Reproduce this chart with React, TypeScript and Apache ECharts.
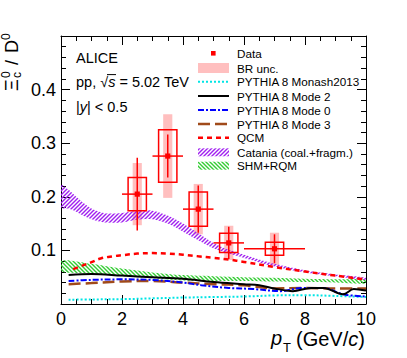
import React, { useEffect, useRef } from "react";
import * as echarts from "echarts";

const FONT = "'Liberation Sans', Arial, Helvetica, sans-serif";

// ---- data points ----
const ptX = [2.5, 3.5, 4.5, 5.5, 7.0];
const ptLow = [2, 3, 4, 5, 6];
const ptHigh = [3, 4, 5, 6, 8];
const ratio = [0.205, 0.276, 0.177, 0.114, 0.103];
const statErr = [0.068, 0.040, 0.044, 0.030, 0.027];
const systErr = [0.031, 0.049, 0.032, 0.018, 0.012];
const brErr = [0.058, 0.078, 0.047, 0.032, 0.030];

// ---- models ----
const cataniaPt = [0, 0.25, 0.5, 0.75, 1.0, 1.25, 1.5, 2.0, 2.5, 3.0, 3.5, 4.0, 4.5, 5.0, 5.5, 6, 7, 8, 9, 10];
const cataniaHi = [0.222, 0.213, 0.2, 0.188, 0.178, 0.172, 0.169, 0.17, 0.174, 0.174, 0.165, 0.15, 0.132, 0.114, 0.101, 0.092, 0.075, 0.063, 0.055, 0.049];
const cataniaLo = [0.18, 0.178, 0.172, 0.164, 0.158, 0.154, 0.152, 0.152, 0.157, 0.158, 0.15, 0.135, 0.119, 0.104, 0.094, 0.086, 0.07, 0.059, 0.052, 0.045];

const shmPt = [0, 1, 2, 3, 4, 5, 6, 7, 8, 9, 10];
const shmHi = [0.081, 0.075, 0.066, 0.059, 0.054, 0.052, 0.05, 0.049, 0.047, 0.046, 0.0456];
const shmLo = [0.061, 0.057, 0.052, 0.048, 0.044, 0.043, 0.043, 0.042, 0.041, 0.04, 0.038];

const qcmPt = [0.4, 0.7, 1.0, 1.3, 1.7, 2.0, 2.5, 3.0, 3.5, 4.0, 4.5, 5.0, 5.5, 6, 7, 8, 9, 10];
const qcmVal = [0.065, 0.0715, 0.078, 0.085, 0.089, 0.091, 0.094, 0.095, 0.094, 0.092, 0.089, 0.086, 0.083, 0.0785, 0.069, 0.0605, 0.053, 0.0456];

const mode2Pt = [0.25, 1, 2, 3, 4, 5, 6, 6.5, 7, 7.6, 8.2, 8.6, 9.25, 9.6, 10];
const mode2Val = [0.054, 0.056, 0.053, 0.05, 0.047, 0.041, 0.037, 0.035, 0.029, 0.024, 0.03, 0.03, 0.018, 0.028, 0.025];

const mode0Pt = [0.25, 1, 2, 3, 4, 4.6, 5.5, 6.3, 7.2, 7.9, 8.6, 9.25, 10];
const mode0Val = [0.043, 0.045, 0.046, 0.045, 0.04, 0.035, 0.03, 0.028, 0.024, 0.03, 0.03, 0.018, 0.014];

const mode3Pt = [0.25, 1, 2, 3, 4, 5, 6, 7, 8, 9, 10];
const mode3Val = [0.037, 0.039, 0.042, 0.043, 0.04, 0.037, 0.035, 0.029, 0.03, 0.029, 0.029];

const monashPt = [0.25, 1, 2, 3, 4, 5, 6, 7, 8, 9, 10];
const monashVal = [0.008, 0.0085, 0.009, 0.0105, 0.012, 0.013, 0.014, 0.016, 0.0165, 0.015, 0.013];

const legendLabels = [
  "Data",
  "BR unc.",
  "PYTHIA 8 Monash2013",
  "PYTHIA 8 Mode 2",
  "PYTHIA 8 Mode 0",
  "PYTHIA 8 Mode 3",
  "QCM",
  "Catania (coal.+fragm.)",
  "SHM+RQM",
];

const RED = "#ff0000";
const PINK = "#ffbfbf";
const PURPLE = "#a020f0";
const GREEN = "#33cc33";
const CYAN = "#00e5e5";
const BLUE = "#0000ff";
const BROWN = "#a04a1a";

function hatch(color: string, forward: boolean) {
  const c = document.createElement("canvas");
  c.width = 4;
  c.height = 4;
  const ctx = c.getContext("2d")!;
  ctx.strokeStyle = color;
  ctx.lineWidth = 1.4;
  const segs = forward
    ? [[0, 4, 4, 0], [-1, 1, 1, -1], [3, 5, 5, 3]]
    : [[0, 0, 4, 4], [-1, 3, 1, 5], [3, -1, 5, 1]];
  ctx.beginPath();
  for (const s of segs) {
    ctx.moveTo(s[0], s[1]);
    ctx.lineTo(s[2], s[3]);
  }
  ctx.stroke();
  return { image: c, repeat: "repeat" } as any;
}

function bandSeries(name: string, xs: number[], lo: number[], hi: number[], fill: any) {
  return {
    type: "custom",
    name,
    clip: true,
    data: xs.map((x, i) => [x, lo[i], hi[i]]),
    encode: { x: 0, y: [1, 2] },
    renderItem: (params: any, api: any) => {
      if (params.dataIndex !== 0) return null;
      const pts: number[][] = [];
      for (let i = 0; i < xs.length; i++) pts.push(api.coord([xs[i], hi[i]]));
      for (let i = xs.length - 1; i >= 0; i--) pts.push(api.coord([xs[i], lo[i]]));
      return { type: "polygon", shape: { points: pts, smooth: 0.3 }, style: { fill, stroke: null } };
    },
  };
}

function lineSeries(name: string, xs: number[], ys: number[], color: string, width: number, dash: any) {
  return {
    type: "line",
    name,
    data: xs.map((x, i) => [x, ys[i]]),
    showSymbol: false,
    symbol: "none",
    smooth: 0.35,
    clip: true,
    lineStyle: { color, width, type: dash },
  };
}

function makeAxis(dim: "x" | "y", position: string, main: boolean) {
  const isX = dim === "x";
  return {
    type: "value",
    position,
    min: 0,
    max: isX ? 10 : 0.5,
    interval: isX ? 2 : 0.1,
    axisLine: { show: true, onZero: false, lineStyle: { color: "#000", width: 1 } },
    axisTick: { show: true, inside: true, length: 9, lineStyle: { color: "#000", width: 1 } },
    minorTick: { show: true, splitNumber: isX ? 4 : 5, length: 5, lineStyle: { color: "#000", width: 1 } },
    splitLine: { show: false },
    minorSplitLine: { show: false },
    axisLabel: main
      ? {
          show: true,
          fontSize: 18,
          color: "#000",
          fontFamily: FONT,
          margin: isX ? 6 : 5,
          showMinLabel: isX,
          showMaxLabel: isX,
          formatter: (v: number) => (isX ? String(Math.round(v)) : v.toFixed(1)),
        }
      : { show: false },
  };
}

export default function App() {
  const ref = useRef<HTMLDivElement>(null);

  useEffect(() => {
    if (!ref.current) return;
    const chart = echarts.init(ref.current, undefined, { renderer: "svg" });
    const purpleHatch = hatch(PURPLE, true);
    const greenHatch = hatch(GREEN, false);

    const dataRows = ptX.map((x, i) => [x, ratio[i], ptLow[i], ptHigh[i], statErr[i], systErr[i], brErr[i]]);

    const legX0 = 198;
    const legX1 = 229;
    const rowY = [53.3, 68, 81.7, 96, 110, 124, 137.7, 152.3, 165.7];

    const legendGraphics: any[] = [];
    legendLabels.forEach((t, i) => {
      legendGraphics.push({
        type: "text",
        x: 237,
        y: rowY[i],
        style: { text: t, fontSize: 11.7, fontFamily: FONT, fill: "#000", verticalAlign: "middle", textAlign: "left" },
      });
    });
    legendGraphics.push(
      { type: "rect", shape: { x: 211, y: rowY[0] - 2.3, width: 4.6, height: 4.6 }, style: { fill: RED } },
      { type: "rect", shape: { x: legX0, y: rowY[1] - 5, width: legX1 - legX0, height: 10 }, style: { fill: PINK } },
      { type: "line", shape: { x1: legX0, y1: rowY[2], x2: legX1, y2: rowY[2] }, style: { stroke: CYAN, lineWidth: 2, lineDash: [2, 2] } },
      { type: "line", shape: { x1: legX0, y1: rowY[3], x2: legX1, y2: rowY[3] }, style: { stroke: "#000", lineWidth: 2 } },
      { type: "line", shape: { x1: legX0, y1: rowY[4], x2: legX1, y2: rowY[4] }, style: { stroke: BLUE, lineWidth: 2, lineDash: [6, 2, 2, 2] } },
      { type: "line", shape: { x1: legX0, y1: rowY[5], x2: legX1, y2: rowY[5] }, style: { stroke: BROWN, lineWidth: 2.5, lineDash: [12, 5] } },
      { type: "line", shape: { x1: legX0, y1: rowY[6], x2: legX1, y2: rowY[6] }, style: { stroke: RED, lineWidth: 2.5, lineDash: [5, 4] } },
      { type: "rect", shape: { x: legX0, y: rowY[7] - 4, width: legX1 - legX0, height: 8 }, style: { fill: purpleHatch } },
      { type: "rect", shape: { x: legX0, y: rowY[8] - 4, width: legX1 - legX0, height: 8 }, style: { fill: greenHatch } }
    );

    const AFS = 14.5;
    const option: any = {
      animation: false,
      backgroundColor: "#fff",
      grid: { left: 61, right: 41, top: 36, bottom: 54, containLabel: false },
      xAxis: [makeAxis("x", "bottom", true), makeAxis("x", "top", false)],
      yAxis: [makeAxis("y", "left", true), makeAxis("y", "right", false)],
      series: [
        {
          type: "custom",
          name: "BR unc.",
          clip: true,
          data: dataRows,
          encode: { x: 0, y: 1 },
          renderItem: (params: any, api: any) => {
            const x = api.value(0);
            const y = api.value(1);
            const br = api.value(6);
            const p1 = api.coord([x - 0.15, y + br]);
            const p2 = api.coord([x + 0.15, y - br]);
            return {
              type: "rect",
              shape: { x: p1[0], y: p1[1], width: p2[0] - p1[0], height: p2[1] - p1[1] },
              style: { fill: PINK },
            };
          },
        },
        bandSeries("SHM+RQM", shmPt, shmLo, shmHi, greenHatch),
        bandSeries("Catania (coal.+fragm.)", cataniaPt, cataniaLo, cataniaHi, purpleHatch),
        lineSeries("PYTHIA 8 Monash2013", monashPt, monashVal, CYAN, 2, [2, 2]),
        lineSeries("PYTHIA 8 Mode 3", mode3Pt, mode3Val, BROWN, 2.5, [12, 5]),
        lineSeries("PYTHIA 8 Mode 0", mode0Pt, mode0Val, BLUE, 2, [6, 2, 2, 2]),
        lineSeries("PYTHIA 8 Mode 2", mode2Pt, mode2Val, "#000", 2, "solid"),
        lineSeries("QCM", qcmPt, qcmVal, RED, 2.5, [5, 4]),
        {
          type: "custom",
          name: "Data",
          clip: true,
          data: dataRows,
          encode: { x: 0, y: 1 },
          renderItem: (params: any, api: any) => {
            const x = api.value(0);
            const y = api.value(1);
            const xl = api.value(2);
            const xh = api.value(3);
            const st = api.value(4);
            const sy = api.value(5);
            const c = api.coord([x, y]);
            const b1 = api.coord([x - 0.3, y + sy]);
            const b2 = api.coord([x + 0.3, y - sy]);
            const sT = api.coord([x, y + st]);
            const sB = api.coord([x, y - st]);
            const hl = api.coord([xl, y]);
            const hh = api.coord([xh, y]);
            return {
              type: "group",
              children: [
                {
                  type: "rect",
                  shape: { x: b1[0], y: b1[1], width: b2[0] - b1[0], height: b2[1] - b1[1] },
                  style: { fill: "none", stroke: RED, lineWidth: 1.5 },
                },
                { type: "line", shape: { x1: sT[0], y1: sT[1], x2: sB[0], y2: sB[1] }, style: { stroke: RED, lineWidth: 1.5 } },
                { type: "line", shape: { x1: hl[0], y1: hl[1], x2: hh[0], y2: hh[1] }, style: { stroke: RED, lineWidth: 1.5 } },
                { type: "rect", shape: { x: c[0] - 2.6, y: c[1] - 2.6, width: 5.2, height: 5.2 }, style: { fill: RED } },
              ],
            };
          },
        },
      ],
      graphic: [
        {
          type: "group",
          x: 12,
          y: 91,
          rotation: Math.PI / 2,
          children: [
            { type: "text", x: 0, y: 0, style: { text: "Ξ", fontSize: 18, fontFamily: FONT, fill: "#000", verticalAlign: "middle" } },
            { type: "text", x: 13, y: 5, style: { text: "c", fontSize: 12, fontFamily: FONT, fill: "#000", verticalAlign: "middle" } },
            { type: "text", x: 13, y: -6, style: { text: "0", fontSize: 12, fontFamily: FONT, fill: "#000", verticalAlign: "middle" } },
            { type: "text", x: 26, y: 0, style: { text: "/", fontSize: 18, fontFamily: FONT, fill: "#000", verticalAlign: "middle" } },
            { type: "text", x: 38, y: 0, style: { text: "D", fontSize: 18, fontFamily: FONT, fill: "#000", verticalAlign: "middle" } },
            { type: "text", x: 51, y: -6, style: { text: "0", fontSize: 12, fontFamily: FONT, fill: "#000", verticalAlign: "middle" } },
          ],
        },
        { type: "text", x: 76, y: 58, style: { text: "ALICE", fontSize: AFS, fontFamily: FONT, fill: "#000", verticalAlign: "middle" } },
        {
          type: "text",
          x: 76,
          y: 82,
          style: {
            text: "pp, √{i|s} = 5.02 TeV",
            fontSize: AFS,
            fontFamily: FONT,
            fill: "#000",
            verticalAlign: "middle",
            rich: { i: { fontSize: AFS, fontFamily: FONT, fontStyle: "italic", fill: "#000" } },
          },
        },
        { type: "line", shape: { x1: 107, y1: 74.6, x2: 116, y2: 74.6 }, style: { stroke: "#000", lineWidth: 1 } },
        {
          type: "text",
          x: 76,
          y: 107,
          style: {
            text: "|{i|y}| < 0.5",
            fontSize: AFS,
            fontFamily: FONT,
            fill: "#000",
            verticalAlign: "middle",
            rich: { i: { fontSize: AFS, fontFamily: FONT, fontStyle: "italic", fill: "#000" } },
          },
        },
        { type: "text", x: 271, y: 338, style: { text: "p", fontSize: 20, fontFamily: FONT, fontStyle: "italic", fill: "#000", verticalAlign: "middle" } },
        { type: "text", x: 283, y: 347.5, style: { text: "T", fontSize: 13, fontFamily: FONT, fill: "#000", verticalAlign: "middle" } },
        {
          type: "text",
          x: 296,
          y: 339,
          style: {
            text: "(GeV/{i|c})",
            fontSize: 20,
            fontFamily: FONT,
            fill: "#000",
            verticalAlign: "middle",
            rich: { i: { fontSize: 20, fontFamily: FONT, fontStyle: "italic", fill: "#000" } },
          },
        },
        ...legendGraphics,
      ],
    };
    chart.setOption(option);
    return () => chart.dispose();
  }, []);

  return <div ref={ref} style={{ width: 407, height: 358, position: "absolute", left: 0, top: 0 }} />;
}
